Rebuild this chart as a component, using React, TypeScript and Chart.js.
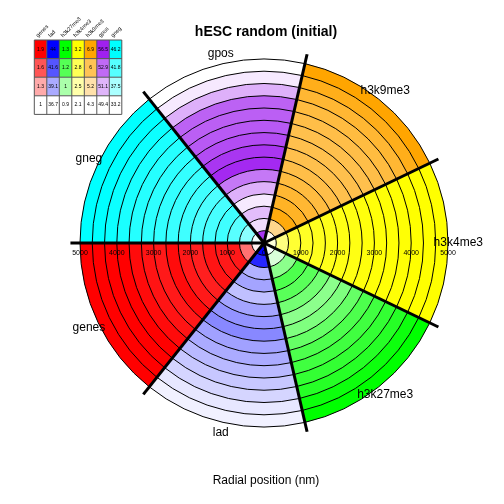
import React, { useEffect, useRef } from "react";
import { Chart, registerables } from "chart.js";
Chart.register(...registerables);

// Categories in table (legend) order
const categories = ["genes", "lad", "h3k27me3", "h3k4me3", "h3k9me3", "gpos", "gneg"];
const baseColors = ["#FF0000", "#0000FF", "#00FF00", "#FFFF00", "#FFA500", "#A020F0", "#00FFFF"];

// Legend table rows (top = max, bottom = min)
const legendRow1 = [1.9, 44, 1.3, 3.2, 6.9, 56.5, 46.2];
const legendRow2 = [1.6, 41.6, 1.2, 2.8, 6, 52.9, 41.8];
const legendRow3 = [1.3, 39.1, 1, 2.5, 5.2, 51.1, 37.5];
const legendRow4 = [1, 36.7, 0.9, 2.1, 4.3, 49.4, 33.2];

// Radial ring outer edges (nm)
const ringEdges = [333, 667, 1000, 1333, 1667, 2000, 2333, 2667, 3000, 3333, 3667, 4000, 4333, 4667, 5000];
const tickValues = [1000, 2000, 3000, 4000, 5000];

// Ring values (innermost -> outermost) per category
const genesRings = [1.05, 1.5, 1.81, 1.81, 1.83, 1.79, 1.81, 1.86, 1.81, 1.83, 1.86, 1.9, 1.9, 1.9, 1.9];
const ladRings = [44, 42.9, 38.9, 39.3, 38.5, 39.3, 39.8, 40.1, 39.4, 39.1, 38.7, 38.3, 37.9, 37.4, 37.1];
const h3k27me3Rings = [0.91, 0.96, 1.08, 1.18, 1.16, 1.12, 1.08, 1.1, 1.14, 1.18, 1.2, 1.22, 1.24, 1.28, 1.3];
const h3k4me3Rings = [2.27, 2.65, 2.98, 3.04, 3.07, 3.09, 3.11, 3.12, 3.15, 3.16, 3.17, 3.18, 3.2, 3.2, 3.2];
const h3k9me3Rings = [4.43, 5.47, 6.77, 6.51, 6.38, 6.25, 6.17, 6.12, 6.12, 6.12, 6.17, 6.25, 6.38, 6.64, 6.9];
const gposRings = [55.8, 50.5, 51.5, 50.1, 51.9, 53.7, 56.2, 55.8, 55.1, 54.7, 54.5, 54.4, 51.9, 50.1, 49.4];
const gnegRings = [33.9, 39.1, 41.7, 43.0, 42.6, 42.3, 43.0, 43.3, 43.6, 43.9, 44.3, 44.9, 45.6, 46.2, 46.2];

const ringValues: Record<string, number[]> = {
  genes: genesRings,
  lad: ladRings,
  h3k27me3: h3k27me3Rings,
  h3k4me3: h3k4me3Rings,
  h3k9me3: h3k9me3Rings,
  gpos: gposRings,
  gneg: gnegRings,
};

const title = "hESC random (initial)";
const axisTitle = "Radial position (nm)";
const FONT = "'Liberation Sans', Arial, Helvetica, sans-serif";

function hexToRgb(h: string) {
  const n = parseInt(h.slice(1), 16);
  return [(n >> 16) & 255, (n >> 8) & 255, n & 255];
}
function mix(base: string, t: number) {
  const c = hexToRgb(base);
  const tt = Math.max(0, Math.min(1, t));
  const r = Math.round(255 + (c[0] - 255) * tt);
  const g = Math.round(255 + (c[1] - 255) * tt);
  const b = Math.round(255 + (c[2] - 255) * tt);
  return `rgb(${r},${g},${b})`;
}
function colorFor(cat: string, v: number) {
  const i = categories.indexOf(cat);
  const t = (v - legendRow4[i]) / (legendRow1[i] - legendRow4[i]);
  return mix(baseColors[i], t);
}

// drawing order around the circle (clockwise from west)
const polarOrder = [...categories].reverse();

const overlayPlugin = {
  id: "overlay",
  afterDatasetsDraw(chart: any) {
    const ctx = chart.ctx as CanvasRenderingContext2D;
    const scale = chart.scales.r;
    const cx = scale.xCenter;
    const cy = scale.yCenter;
    const arcs = chart.getDatasetMeta(0).data;
    const lineR = scale.getDistanceFromCenterForValue(5260);
    ctx.save();
    // thick sector boundaries
    ctx.strokeStyle = "#000";
    ctx.lineWidth = 3;
    ctx.lineCap = "butt";
    arcs.forEach((a: any) => {
      ctx.beginPath();
      ctx.moveTo(cx, cy);
      ctx.lineTo(cx + Math.cos(a.startAngle) * lineR, cy + Math.sin(a.startAngle) * lineR);
      ctx.stroke();
    });
    // tick labels
    ctx.fillStyle = "#000";
    ctx.font = `7px ${FONT}`;
    ctx.textAlign = "center";
    ctx.textBaseline = "middle";
    ctx.fillText("0", cx, cy + 10);
    tickValues.forEach((v) => {
      const d = scale.getDistanceFromCenterForValue(v);
      ctx.fillText(String(v), cx - d, cy + 10);
      ctx.fillText(String(v), cx + d, cy + 10);
    });
    // sector labels
    ctx.font = `12px ${FONT}`;
    const labR = scale.getDistanceFromCenterForValue(5280);
    arcs.forEach((a: any, i: number) => {
      const mid = (a.startAngle + a.endAngle) / 2;
      ctx.fillText(polarOrder[i], cx + Math.cos(mid) * labR, cy + Math.sin(mid) * labR);
    });
    // titles
    ctx.font = `bold 14px ${FONT}`;
    ctx.fillText(title, 266, 32);
    ctx.font = `12px ${FONT}`;
    ctx.fillText(axisTitle, 266, 481);

    // legend table
    const x0 = 34.3, y0 = 40, cw = 12.5, rh = 18.6;
    const rows = [legendRow1, legendRow2, legendRow3, legendRow4];
    const fracs = [1, 2 / 3, 1 / 3, 0];
    rows.forEach((row, r) => {
      row.forEach((v, c) => {
        ctx.fillStyle = mix(baseColors[c], fracs[r]);
        ctx.fillRect(x0 + c * cw, y0 + r * rh, cw, rh);
      });
    });
    ctx.strokeStyle = "#555";
    ctx.lineWidth = 1;
    for (let r = 0; r <= 4; r++) {
      ctx.beginPath();
      ctx.moveTo(x0, y0 + r * rh);
      ctx.lineTo(x0 + 7 * cw, y0 + r * rh);
      ctx.stroke();
    }
    for (let c = 0; c <= 7; c++) {
      ctx.beginPath();
      ctx.moveTo(x0 + c * cw, y0);
      ctx.lineTo(x0 + c * cw, y0 + 4 * rh);
      ctx.stroke();
    }
    ctx.fillStyle = "#000";
    ctx.font = `5px ${FONT}`;
    rows.forEach((row, r) => {
      row.forEach((v, c) => {
        ctx.fillText(String(v), x0 + c * cw + cw / 2, y0 + r * rh + rh / 2);
      });
    });
    ctx.textAlign = "left";
    ctx.textBaseline = "alphabetic";
    ctx.font = `5.5px ${FONT}`;
    categories.forEach((cat, c) => {
      ctx.save();
      ctx.translate(x0 + c * cw + cw / 2 - 2.5, y0 - 2.5);
      ctx.rotate(-Math.PI / 4);
      ctx.fillText(cat, 0, 0);
      ctx.restore();
    });
    ctx.restore();
  },
};

export default function App() {
  const ref = useRef<HTMLCanvasElement | null>(null);
  useEffect(() => {
    if (!ref.current) return;
    const datasets = ringEdges.map((edge, k) => ({
      label: `ring ${k + 1}`,
      data: polarOrder.map(() => edge),
      backgroundColor: polarOrder.map((cat) => colorFor(cat, ringValues[cat][k])),
      borderColor: "#000",
      borderWidth: 1,
    }));
    const chart = new Chart(ref.current, {
      type: "polarArea",
      data: { labels: polarOrder, datasets },
      options: {
        responsive: false,
        animation: false,
        events: [],
        layout: { padding: { left: 80, top: 59, right: 56, bottom: 77 } },
        plugins: { legend: { display: false }, tooltip: { enabled: false }, title: { display: false } },
        scales: {
          r: {
            min: 0,
            max: 5000,
            startAngle: 270,
            ticks: { display: false },
            grid: { display: false },
            angleLines: { display: false },
            pointLabels: { display: false },
          },
        },
      },
      plugins: [overlayPlugin],
    });
    return () => chart.destroy();
  }, []);
  return (
    <div style={{ position: "absolute", left: 0, top: 0, width: 504, height: 504, background: "#fff" }}>
      <canvas ref={ref} width={504} height={504} style={{ width: 504, height: 504 }} />
    </div>
  );
}
